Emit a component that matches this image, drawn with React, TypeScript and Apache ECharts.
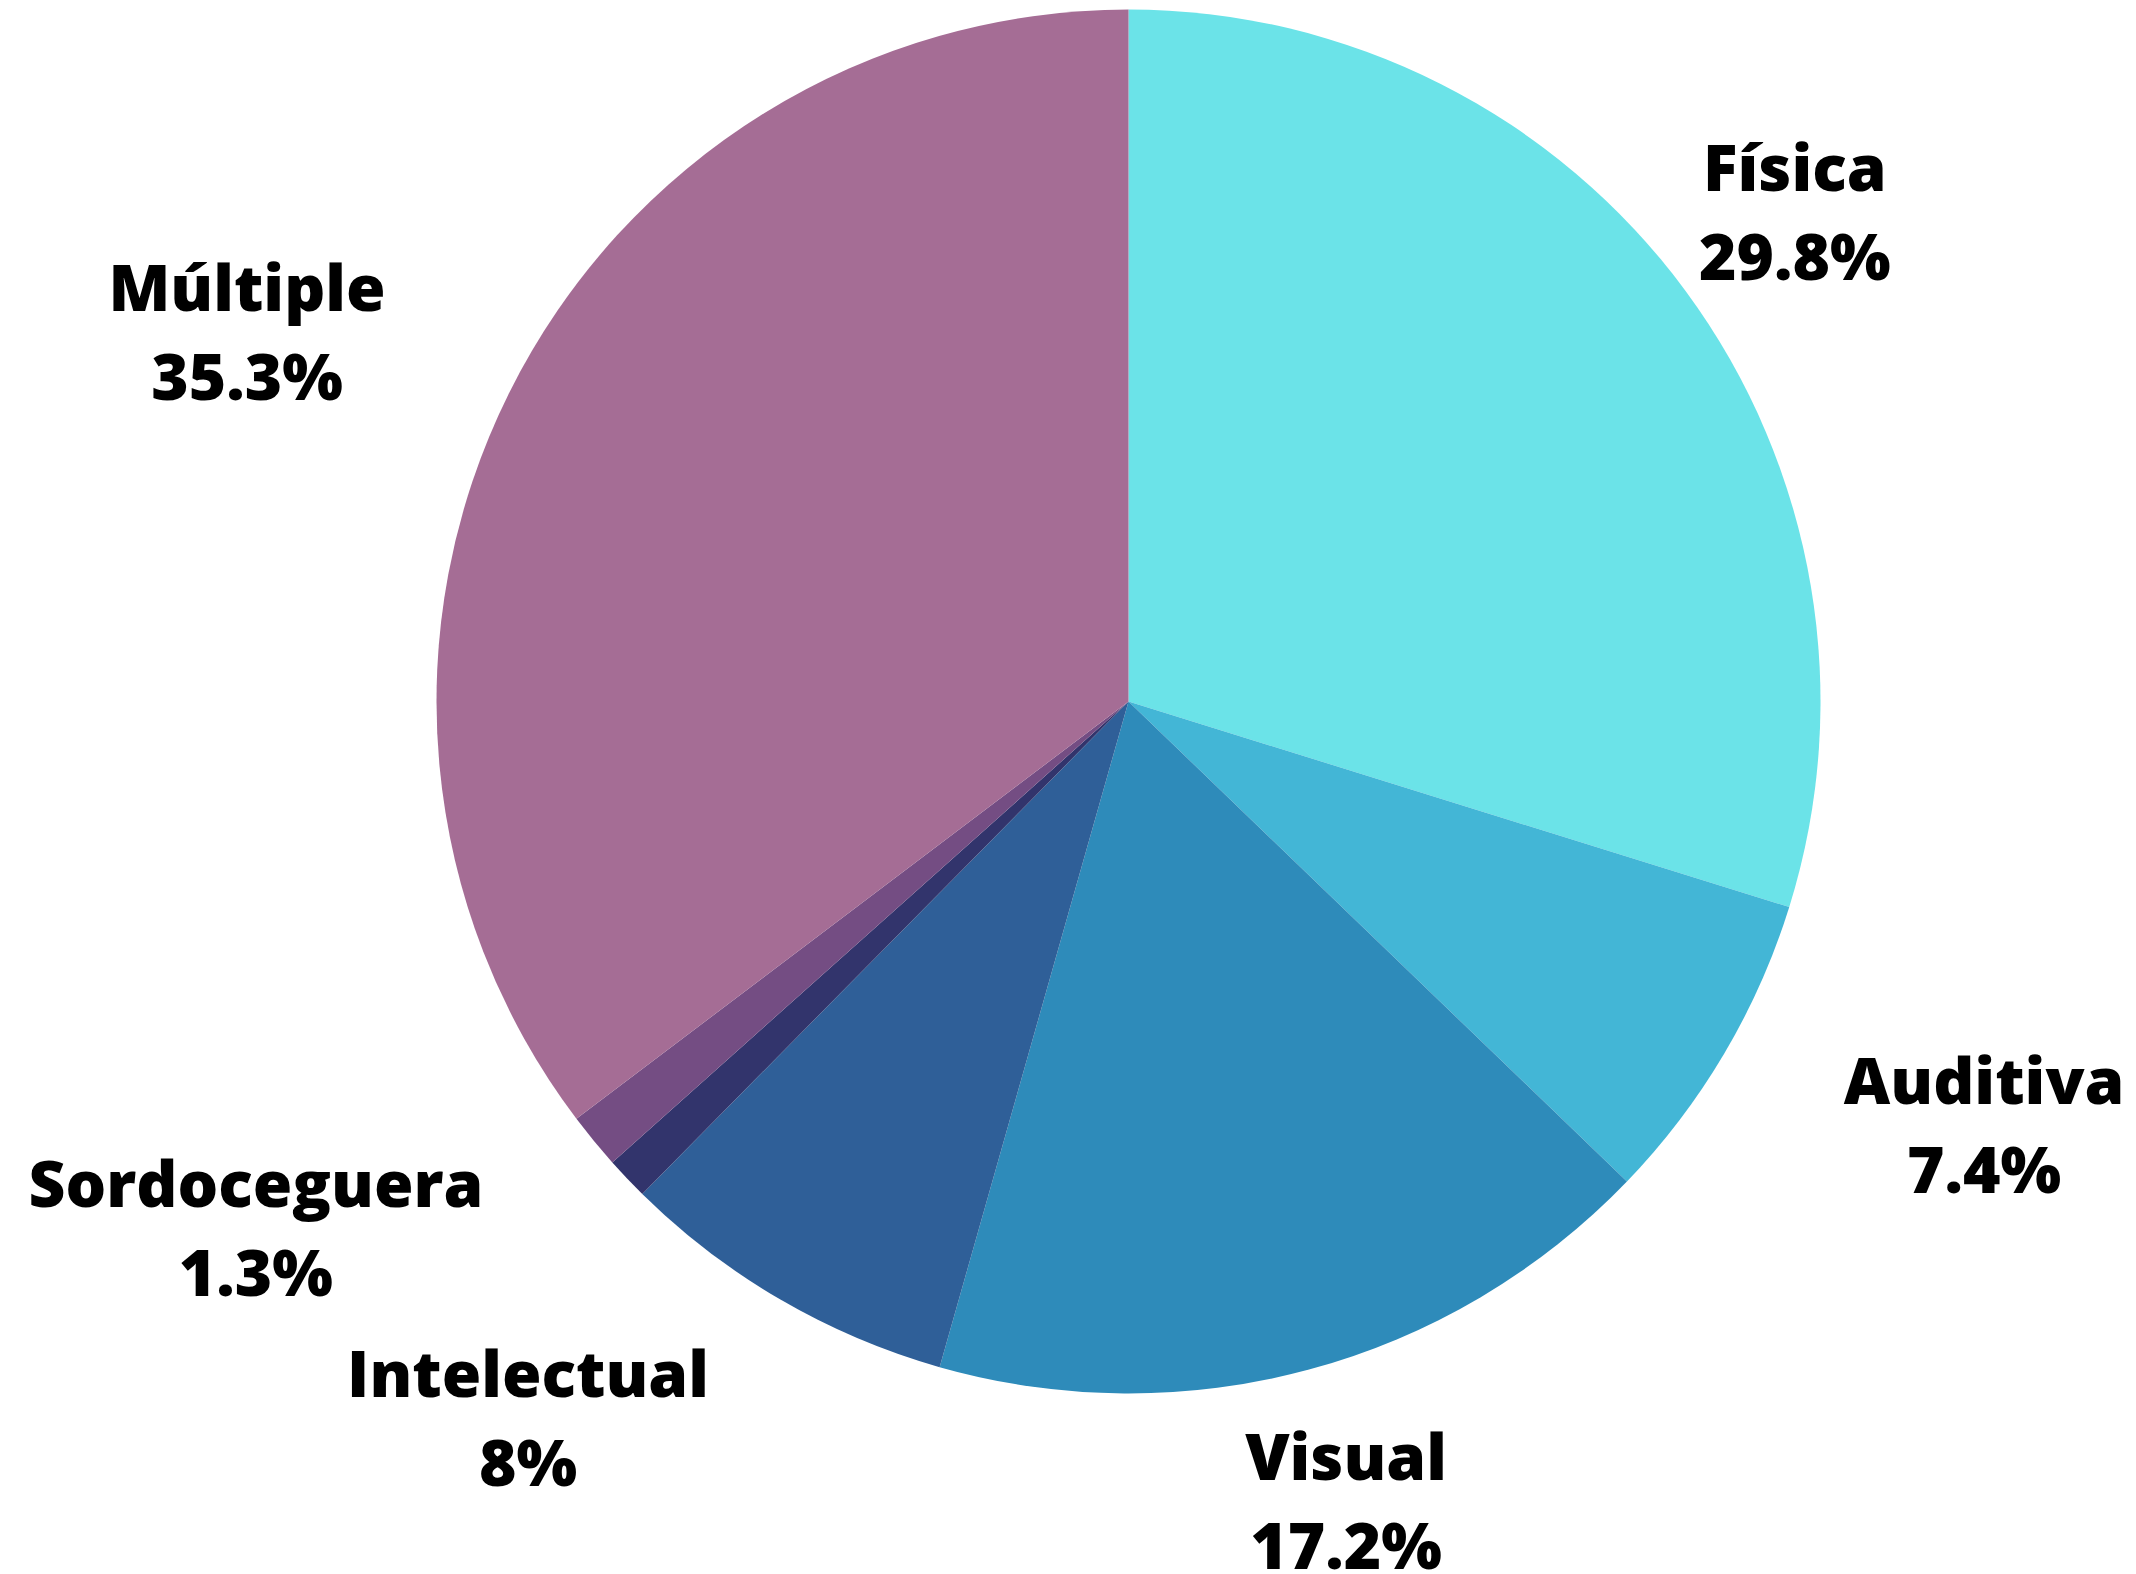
import React, { useEffect, useRef } from "react";
import * as echarts from "echarts";

const categories = ["Física", "Auditiva", "Visual", "Intelectual", "Otra", "Sordoceguera", "Múltiple"];
const values = [29.8, 7.4, 17.2, 8, 1.0, 1.3, 35.3];
const showLabel = [true, true, true, true, false, true, true];
const colors = ["#6BE3E8", "#43B6D6", "#2E8BBA", "#2F5F98", "#32346C", "#744D83", "#A56D95"];
// label offsets from the slice's outer mid-point (styling only)
const labelShift: [number, number][] = [
  [109, -80],
  [260, 70],
  [37, 130],
  [-252, 118],
  [0, 0],
  [-338, 86],
  [-262, -62],
];

export default function App() {
  const ref = useRef<HTMLDivElement>(null);
  useEffect(() => {
    if (!ref.current) return;
    const chart = echarts.init(ref.current, undefined, { renderer: "svg" });
    chart.setOption({
      animation: false,
      backgroundColor: "#ffffff",
      series: [
        {
          type: "pie",
          center: [1128.5, 701.5],
          radius: 692,
          startAngle: 90,
          clockwise: true,
          avoidLabelOverlap: false,
          itemStyle: { borderWidth: 0 },
          label: {
            show: true,
            position: "outside",
            formatter: "{b}\n{c}%",
            fontFamily: "Open Sans",
            fontWeight: 800,
            fontSize: 64,
            lineHeight: 89,
            color: "#000000",
          },
          labelLine: { show: true, length: 20, length2: 0, lineStyle: { opacity: 0, width: 0 } },
          labelLayout: (params: any) => {
            const pts = params.labelLinePoints;
            const i = params.dataIndex;
            if (!pts) return {};
            const s = labelShift[i];
            return {
              x: pts[0][0] + s[0],
              y: pts[0][1] + s[1],
              align: "center",
              verticalAlign: "middle",
            };
          },
          data: categories.map((name, i) => ({
            name,
            value: values[i],
            itemStyle: { color: colors[i] },
            label: { show: showLabel[i] },
            labelLine: { show: showLabel[i] },
          })),
        },
      ],
    });
    return () => chart.dispose();
  }, []);
  return (
    <div
      ref={ref}
      style={{ position: "absolute", left: 0, top: 0, width: 2136, height: 1574 }}
    />
  );
}
